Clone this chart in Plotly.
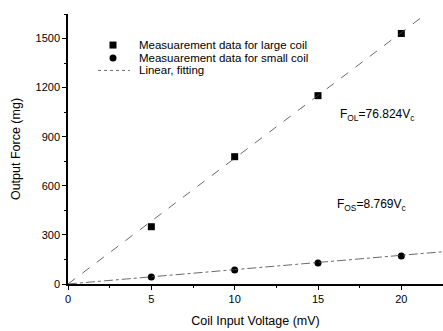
import plotly.graph_objects as go

voltage = [5, 10, 15, 20]
force_large = [350, 778, 1151, 1531]
force_small = [43, 86, 129, 171]
fit_x = [0, 22.5]
slope_large = 76.824
slope_small = 8.769
x_ticks = [0, 5, 10, 15, 20]
y_ticks = [0, 300, 600, 900, 1200, 1500]
legend_labels = ["Measuarement data for large coil",
                 "Measuarement data for small coil",
                 "Linear, fitting"]

font = dict(family="Liberation Sans, Arial, sans-serif", color="black")

fig = go.Figure()
fig.add_trace(go.Scatter(x=voltage, y=force_large, mode="markers",
                         marker=dict(symbol="square", size=7, color="black"),
                         name=legend_labels[0], showlegend=False))
fig.add_trace(go.Scatter(x=voltage, y=force_small, mode="markers",
                         marker=dict(symbol="circle", size=7, color="black"),
                         name=legend_labels[1], showlegend=False))
fig.add_trace(go.Scatter(x=fit_x, y=[slope_large * v for v in fit_x], mode="lines",
                         line=dict(color="#444", width=0.8, dash="dash"),
                         name=legend_labels[2], showlegend=False))
fig.add_trace(go.Scatter(x=fit_x, y=[slope_small * v for v in fit_x], mode="lines",
                         line=dict(color="#444", width=0.8, dash="dashdot"),
                         showlegend=False))

# hand-built compact legend (paper coordinates)
leg_y = [0.885, 0.837, 0.791]
fig.add_shape(type="rect", xref="paper", yref="paper", xsizemode="pixel", ysizemode="pixel",
              xanchor=0.12, yanchor=leg_y[0], x0=-3.5, x1=3.5, y0=-3.5, y1=3.5,
              fillcolor="black", line=dict(width=0))
fig.add_shape(type="circle", xref="paper", yref="paper", xsizemode="pixel", ysizemode="pixel",
              xanchor=0.12, yanchor=leg_y[1], x0=-3.5, x1=3.5, y0=-3.5, y1=3.5,
              fillcolor="black", line=dict(width=0))
fig.add_shape(type="line", xref="paper", yref="paper", x0=0.08, x1=0.165,
              y0=leg_y[2], y1=leg_y[2], line=dict(color="#444", width=0.8, dash="dot"))
for lbl, yy in zip(legend_labels, leg_y):
    fig.add_annotation(xref="paper", yref="paper", x=0.184, y=yy, text=lbl, showarrow=False,
                       xanchor="left", yanchor="middle", font=dict(size=11.5, **font))

fig.add_annotation(x=16.2, y=1033, text="F<sub>OL</sub>=76.824V<sub>c</sub>", showarrow=False,
                   xanchor="left", yanchor="middle", font=dict(size=12, **font))
fig.add_annotation(x=16.0, y=483, text="F<sub>OS</sub>=8.769V<sub>c</sub>", showarrow=False,
                   xanchor="left", yanchor="middle", font=dict(size=12, **font))

fig.update_layout(
    width=443, height=331,
    margin=dict(l=68, r=0, t=14, b=47),
    plot_bgcolor="white", paper_bgcolor="white",
    font=dict(size=11, **font),
    showlegend=False,
    xaxis=dict(range=[0, 22.5], tickvals=x_ticks, ticks="outside", ticklen=4,
               showgrid=False, zeroline=False, showline=True, linecolor="black",
               linewidth=1.8, tickcolor="black",
               minor=dict(dtick=2.5, ticks="outside", ticklen=2, tickcolor="black"),
               title=dict(text="Coil Input Voltage (mV)", font=dict(size=12.5, **font), standoff=12)),
    yaxis=dict(range=[0, 1650], tickvals=y_ticks, ticks="outside", ticklen=4,
               showgrid=False, zeroline=False, showline=True, linecolor="black",
               linewidth=1.5, tickcolor="black",
               minor=dict(dtick=150, ticks="outside", ticklen=2, tickcolor="black"),
               title=dict(text="Output Force (mg)", font=dict(size=12.5, **font), standoff=12)),
)

fig.write_html("out.html")
